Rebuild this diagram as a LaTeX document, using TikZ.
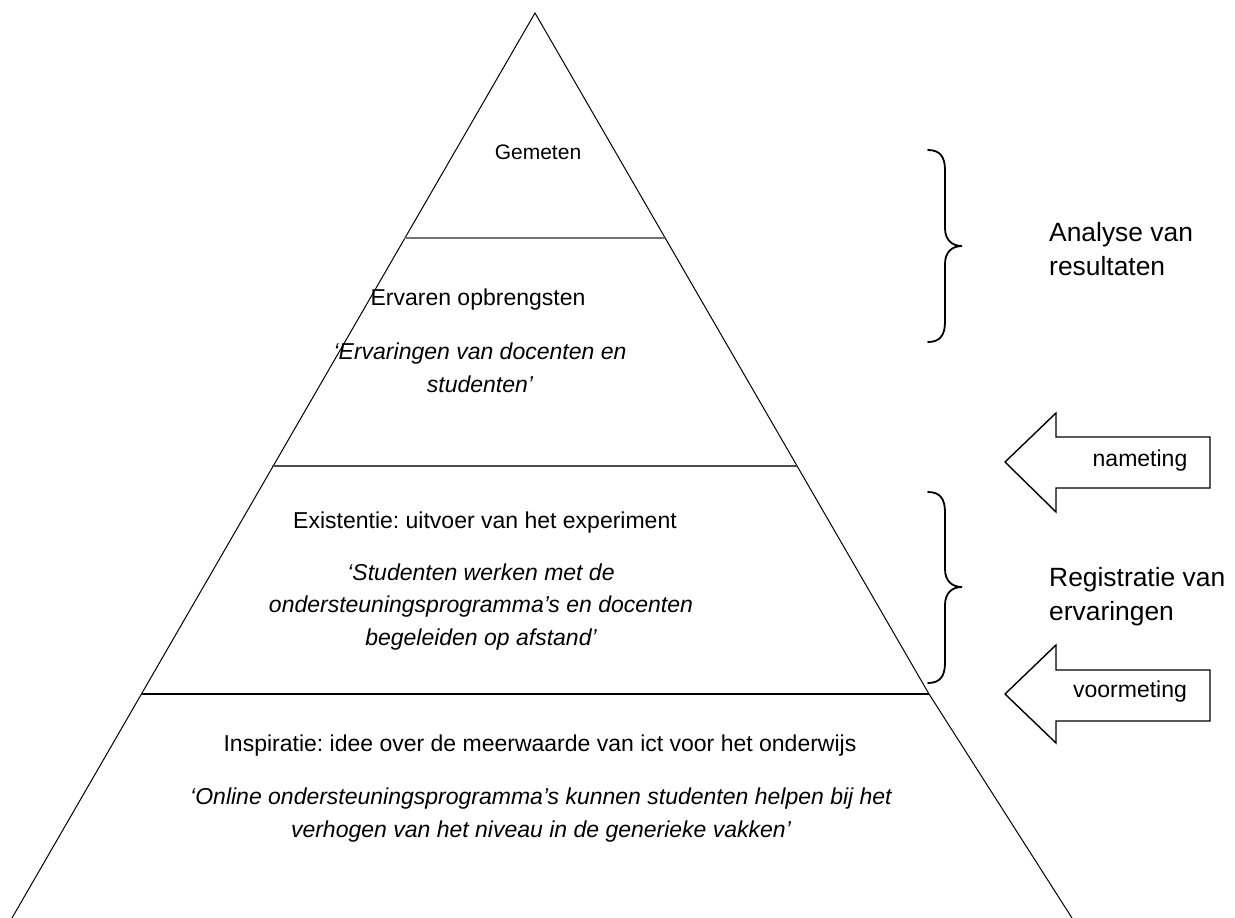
\documentclass[tikz,border=0pt]{standalone}
\usepackage{fontspec}
\setmainfont{Liberation Sans}
\frenchspacing
\begin{document}
\begin{tikzpicture}[x=1pt,y=-1pt,
  edge/.style={black,line width=1pt},
  tier/.style={line width=2.4pt},
  bracepath/.style={black,line width=1.8pt,line cap=round},
  arrowbox/.style={black,line width=1.4pt,fill=white,line join=miter},
  lbl/.style={inner sep=0pt,align=center,font=\fontsize{23}{32.5}\selectfont},
  ilbl/.style={inner sep=0pt,align=center,font=\fontsize{23}{32.5}\selectfont\itshape},
  side/.style={inner sep=0pt,align=left,anchor=west,font=\fontsize{26.4}{34}\selectfont}]
\useasboundingbox (0,0) rectangle (1235,918);
% pyramid
\coordinate (apex) at (535,13);
\coordinate (bl) at (12,918);
\coordinate (rk) at (929,694);
\coordinate (br) at (1072,918);
\draw[edge] (bl) -- (apex) -- (rk) -- (br);
\coordinate (l1) at (404,238); \coordinate (r1) at (665,238);
\coordinate (l2) at (272,466); \coordinate (r2) at (797,466);
\coordinate (l3) at (142,694); \coordinate (r3) at (929,694);
\draw[tier,color=black!55] (l1) -- (r1);
\draw[tier,color=black!70] (l2) -- (r2);
\draw[tier,color=black] (l3) -- (r3);
% texts in pyramid
\node[lbl,font=\fontsize{21}{26}\selectfont] (gem) at (538,152) {Gemeten};
\node[lbl] (erv) at (478,300) {Ervaren opbrengsten};
\node[ilbl] (ervq) at (480,368) {‘Ervaringen van docenten en\\studenten’};
\node[lbl] (exi) at (485,523) {Existentie: uitvoer van het experiment};
\node[ilbl] (exiq) at (481,607) {‘Studenten werken met de\\ondersteuningsprogramma’s en docenten\\begeleiden op afstand’};
\node[lbl] (ins) at (540,746) {Inspiratie: idee over de meerwaarde van ict voor het onderwijs};
\node[ilbl] (insq) at (541,815) {‘Online ondersteuningsprogramma’s kunnen studenten helpen bij het\\verhogen van het niveau in de generieke vakken’};
% braces
\draw[bracepath] (928,150) .. controls (940,150) and (945,157) .. (945,170) -- (945,228)
  .. controls (945,240) and (952,246) .. (962,246)
  .. controls (952,246) and (945,252) .. (945,264) -- (945,322)
  .. controls (945,335) and (940,342) .. (928,342);
\draw[bracepath] (928,492) .. controls (940,492) and (945,499) .. (945,512) -- (945,569)
  .. controls (945,581) and (952,587) .. (962,587)
  .. controls (952,587) and (945,593) .. (945,605) -- (945,663)
  .. controls (945,676) and (940,683) .. (928,683);
\node[side] (ana) at (1049,249) {Analyse van\\resultaten};
\node[side] (reg) at (1049,597) {Registratie van\\ervaringen};
% arrows
\draw[arrowbox] (1005,462) -- (1056,413) -- (1056,437) -- (1210,437) -- (1210,488) -- (1056,488) -- (1056,512) -- cycle;
\node[lbl] (nam) at (1140,461) {nameting};
\draw[arrowbox] (1005,694) -- (1056,645) -- (1056,670) -- (1210,670) -- (1210,721) -- (1056,721) -- (1056,743) -- cycle;
\node[lbl] (voo) at (1130,692) {voormeting};
\end{tikzpicture}
\end{document}
